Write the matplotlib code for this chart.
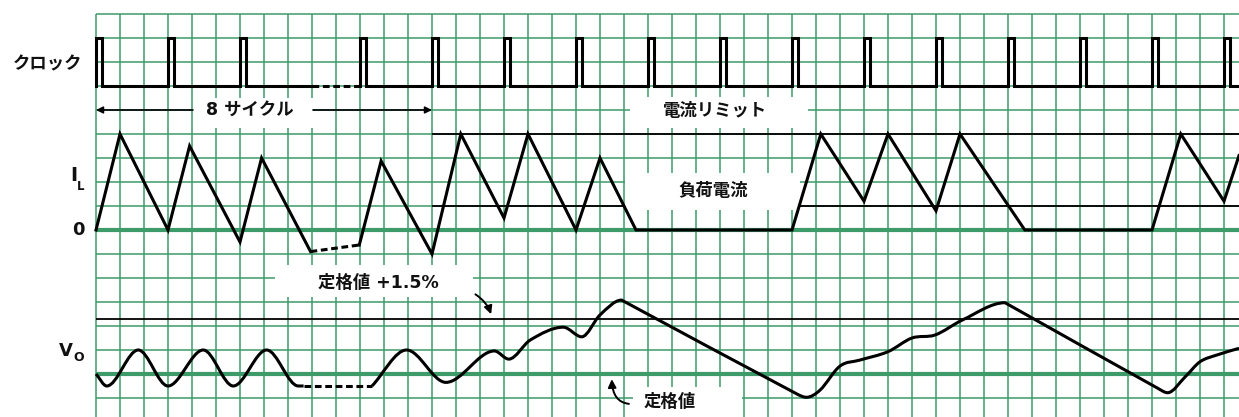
import numpy as np
import matplotlib
matplotlib.use("Agg")
import matplotlib.pyplot as plt
from matplotlib.path import Path
from matplotlib.patches import PathPatch, Rectangle, FancyArrowPatch

plt.rcParams['font.family'] = ['DejaVu Sans', 'Noto Sans CJK JP']
plt.rcParams['font.weight'] = 'bold'

# x in grid cells, one clock period = 3 cells
clock_edges = [0, 3, 6, 11, 14, 17, 20, 23, 26, 29, 32, 35, 38, 41, 44, 47]
clock_skip = (9, 11)

# inductor current, cells above the zero line
il_x_a = [0, 1, 3, 3.9, 6, 6.9, 8.94]
il_a = [0, 4, 0, 3.5, -0.5, 3, -0.9]
il_x_gap = [8.94, 10.97]
il_gap = [-0.9, -0.625]
il_x_b = [10.97, 11.88, 14, 15.2, 17, 18, 20, 21, 22.5, 29, 30.2, 32, 33, 35,
          36, 38.7, 44, 45.2, 47, 47.625]
il_b = [-0.625, 2.875, -1, 4, 0.5, 4, 0, 3, 0, 0, 4, 1.2, 4, 0.8,
        4, 0, 0, 4, 1.2, 3.1]
il_limit = 4
il_load = 1

# output voltage, cells above nominal
vo_x_a = [0, 0.45, 1.76, 3.0, 4.47, 5.72, 7.11, 8.43, 8.65]
vo_a = [0, -0.5, 1, -0.5, 1, -0.5, 1, -0.5, -0.5]
vo_x_gap = [8.65, 11.5]
vo_gap = [-0.5, -0.5]
vo_x_b = [11.5, 12.94, 14.58, 16.6, 17.2, 18.1, 19.47, 20.24, 21.0, 21.9,
          29.2, 29.6, 30.17, 31.0, 31.83, 33.0, 34.0, 34.96, 36.1,
          37.875, 44.25, 44.65, 45.4, 46.0, 46.7, 47.625]
vo_b = [-0.5, 1, -0.35, 0.96, 0.62, 1.42, 1.95, 1.55, 2.46, 3.08,
        -0.83, -0.97, -0.67, 0.33, 0.58, 0.93, 1.5, 1.625, 2.25,
        2.97, -0.6, -0.78, -0.1, 0.51, 0.79, 1.07]
vo_b_peaks = [21.9, 37.875]   # tops where the straight fall begins
vo_limit = 2.3

# rows of the grid (counted downward)
CLK_HI, CLK_LO = 1, 3
IL_ZERO = 9
VO_NOM = 15

GREEN = '#3d9b6a'
LW = 2.2


def smooth_path(xs, ys, corners=()):
    xs = np.asarray(xs, float)
    ys = np.asarray(ys, float)
    n = len(xs)
    chord = np.diff(ys) / np.diff(xs)
    m_in = np.zeros(n)
    m_out = np.zeros(n)
    m_out[0] = chord[0]
    m_in[-1] = chord[-1]
    for i in range(1, n - 1):
        if xs[i] in corners:
            # level off on the way in, straight line on the way out
            m_in[i], m_out[i] = 0.0, chord[i]
        elif (ys[i] - ys[i - 1]) * (ys[i + 1] - ys[i]) > 0:
            m_in[i] = m_out[i] = (ys[i + 1] - ys[i - 1]) / (xs[i + 1] - xs[i - 1])
    verts = [(xs[0], ys[0])]
    codes = [Path.MOVETO]
    for i in range(n - 1):
        h = xs[i + 1] - xs[i]
        verts += [(xs[i] + h / 3, ys[i] + m_out[i] * h / 3),
                  (xs[i + 1] - h / 3, ys[i + 1] - m_in[i + 1] * h / 3),
                  (xs[i + 1], ys[i + 1])]
        codes += [Path.CURVE4] * 3
    return Path(verts, codes)


fig = plt.figure(figsize=(12.39, 4.17), dpi=100)
ax = fig.add_axes([0, 0, 1, 1])
XR = 47.625
ax.set_xlim(-4, XR)
ax.set_ylim(16.792, -0.583)
ax.axis('off')

# grid paper
ax.vlines(np.arange(0, 48), 0, 16.8, color=GREEN, lw=1.1, zorder=1)
ax.hlines(np.arange(0, 17), 0, XR, color=GREEN, lw=1.1, zorder=1)
ax.hlines([IL_ZERO, VO_NOM], 0, XR, color=GREEN, lw=3.0, zorder=1.2)

# reference levels
ax.hlines([IL_ZERO - il_limit, IL_ZERO - il_load], 14, XR, color='black', lw=1.3, zorder=1.5)
ax.hlines(VO_NOM - vo_limit, 0, XR, color='black', lw=1.3, zorder=1.5)

# white label boxes
for x0, x1, r0, r1 in [(4.04, 9.04, 3.5, 4.75), (22.25, 29.67, 3.45, 4.75),
                       (22.04, 29.33, 6.63, 8.17), (7.46, 15.71, 10.46, 11.79),
                       (22.375, 26.9, 15.54, 16.9)]:
    ax.add_patch(Rectangle((x0, r0), x1 - x0, r1 - r0, facecolor='white',
                           edgecolor='none', zorder=2))

# clock
w = 0.25
cx, cy = [], []
for k, e in enumerate(clock_edges):
    cx += [e, e, e + w, e + w]
    cy += [CLK_LO, CLK_HI, CLK_HI, CLK_LO]
    nxt = clock_edges[k + 1] if k + 1 < len(clock_edges) else XR
    if nxt == clock_skip[1]:
        cx.append(clock_skip[0])
        cy.append(CLK_LO)
        ax.plot(cx, cy, color='black', lw=LW, solid_joinstyle='miter', zorder=3)
        ax.plot(clock_skip, [CLK_LO, CLK_LO], color='black', lw=LW,
                ls=(0, (2.2, 1.2)), zorder=3)
        cx, cy = [], []
cx.append(XR)
cy.append(CLK_LO)
ax.plot(cx, cy, color='black', lw=LW, solid_joinstyle='miter', zorder=3)

# inductor current
ax.plot(il_x_a, IL_ZERO - np.array(il_a), color='black', lw=LW,
        solid_joinstyle='miter', zorder=3)
ax.plot(il_x_gap, IL_ZERO - np.array(il_gap), color='black', lw=LW,
        ls=(0, (2.2, 1.2)), zorder=3)
ax.plot(il_x_b, IL_ZERO - np.array(il_b), color='black', lw=LW,
        solid_joinstyle='miter', zorder=3)

# output voltage
ax.add_patch(PathPatch(smooth_path(vo_x_a, VO_NOM - np.array(vo_a)), fill=False,
                       edgecolor='black', lw=LW, zorder=3))
ax.add_patch(PathPatch(smooth_path(vo_x_b, VO_NOM - np.array(vo_b), vo_b_peaks),
                       fill=False, edgecolor='black', lw=LW, zorder=3))
ax.plot(vo_x_gap, VO_NOM - np.array(vo_gap), color='black', lw=LW,
        ls=(0, (2.2, 1.2)), zorder=3)

# 8 cycle span arrows
ap = dict(arrowstyle='-|>', lw=1.2, color='black', mutation_scale=10,
          shrinkA=0, shrinkB=0)
ax.annotate('', xy=(0, 4), xytext=(4.04, 4), arrowprops=ap, zorder=3)
ax.annotate('', xy=(14, 4), xytext=(9.04, 4), arrowprops=ap, zorder=3)

# pointer arrows
ax.add_patch(FancyArrowPatch((15.71, 11.62), (16.5, 12.62),
                             connectionstyle='arc3,rad=-0.2', arrowstyle='-|>',
                             mutation_scale=12, lw=1.4, color='black', zorder=4))
ax.add_patch(FancyArrowPatch((22.32, 16.25), (21.49, 15.1),
                             connectionstyle='angle3,angleA=0,angleB=90',
                             arrowstyle='-|>', mutation_scale=12, lw=1.4,
                             color='black', zorder=4))

fs = 12.5
txt = dict(ha='center', va='center', fontweight='bold', color='#111111', zorder=5)
ax.text(-2.04, 2.12, 'クロック', fontsize=fs, **txt)
ax.text(6.42, 4.0, '8 サイクル', fontsize=fs, **txt)
ax.text(25.8, 4.04, '電流リミット', fontsize=fs, **txt)
ax.text(25.7, 7.37, '負荷電流', fontsize=fs, **txt)
ax.text(11.75, 11.2, '定格値 +1.5%', fontsize=fs, **txt)
ax.text(23.9, 16.15, '定格値', fontsize=fs, **txt)
ax.text(-0.92, 6.73, 'I', fontsize=14, **txt)
ax.text(-0.65, 7.17, 'L', fontsize=8.5, **txt)
ax.text(-0.75, 9.02, '0', fontsize=13, **txt)
ax.text(-1.25, 14.04, 'V', fontsize=13, **txt)
ax.text(-0.72, 14.31, 'O', fontsize=9, **txt)

fig.savefig('out.png', dpi=100)
